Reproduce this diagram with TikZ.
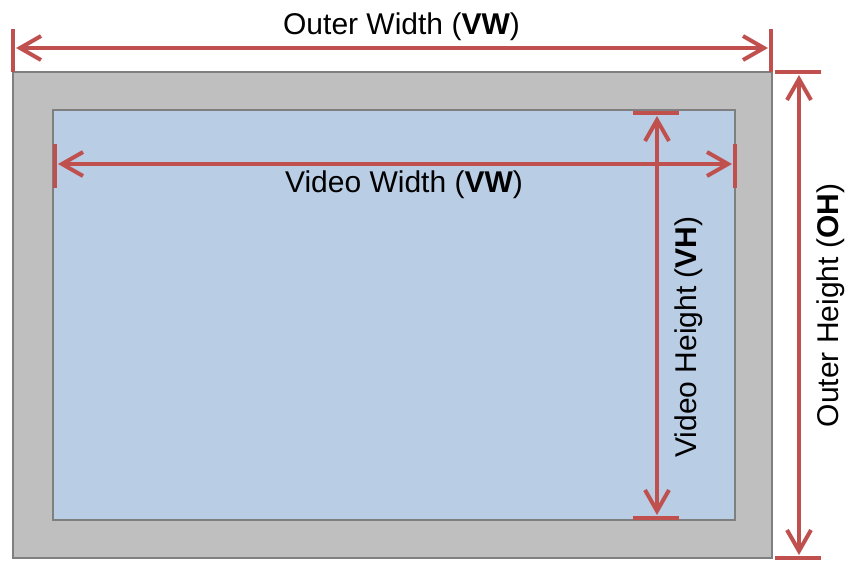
\documentclass[tikz,border=0pt]{standalone}
\usepackage{fontspec}
\setmainfont{Liberation Sans}
\usetikzlibrary{positioning,calc,arrows.meta}
\definecolor{Brick}{RGB}{192,80,77}
\definecolor{Frame}{RGB}{191,191,191}
\definecolor{FrameLine}{RGB}{127,127,127}
\definecolor{Screen}{RGB}{185,205,229}

\begin{document}
\begin{tikzpicture}[x=1pt,y=-1pt,
    box/.style={draw=FrameLine,line width=1.5pt,inner sep=0pt,outer sep=0pt},
    tick/.style={draw=Brick,line width=4pt},
    dim/.style={draw=Brick,line width=4pt,
        {Straight Barb[length=21pt,width=24pt]}-{Straight Barb[length=21pt,width=24pt]},
        shorten <=3pt,shorten >=3pt},
    lbl/.style={font=\fontsize{30pt}{36pt}\selectfont,inner sep=0pt}]
    \useasboundingbox (0,0) rectangle (847,562);
    % frame and screen
    \node[box,fill=Frame,minimum width=759pt,minimum height=486pt] (outer) at (392.5,315) {};
    \node[box,fill=Screen,minimum width=682pt,minimum height=410pt] (screen) at (394,315) {};
    % end points of the dimensions
    \coordinate (owl) at (13,48);
    \coordinate (owr) at (771,48);
    \coordinate (oht) at (799,72);
    \coordinate (ohb) at (799,558);
    \coordinate (vwl) at (55,164);
    \coordinate (vwr) at (735,164);
    \coordinate (vht) at (657,113);
    \coordinate (vhb) at (657,518);
    % ticks
    \draw[tick] (13,29) -- (13,72);
    \draw[tick] (771,29) -- (771,72);
    \draw[tick] (775,72) -- (821,72);
    \draw[tick] (775,558) -- (821,558);
    \draw[tick] (55,144) -- (55,188);
    \draw[tick] (735,144) -- (735,188);
    \draw[tick] (633,113) -- (679,113);
    \draw[tick] (633,518) -- (679,518);
    % arrows
    \draw[dim] (owl) -- (owr);
    \draw[dim] (oht) -- (ohb);
    \draw[dim] (vwl) -- (vwr);
    \draw[dim] (vht) -- (vhb);
    % labels
    \node[lbl] (owtext) at (401.5,26.5) {Outer Width (\textbf{VW})};
    \node[lbl] (vwtext) at (404,185) {Video Width (\textbf{VW})};
    \node[lbl,rotate=90] (vhtext) at (689,337) {Video Height (\textbf{VH})};
    \node[lbl,rotate=90] (ohtext) at (831,305.5) {Outer Height (\textbf{OH})};
\end{tikzpicture}
\end{document}
